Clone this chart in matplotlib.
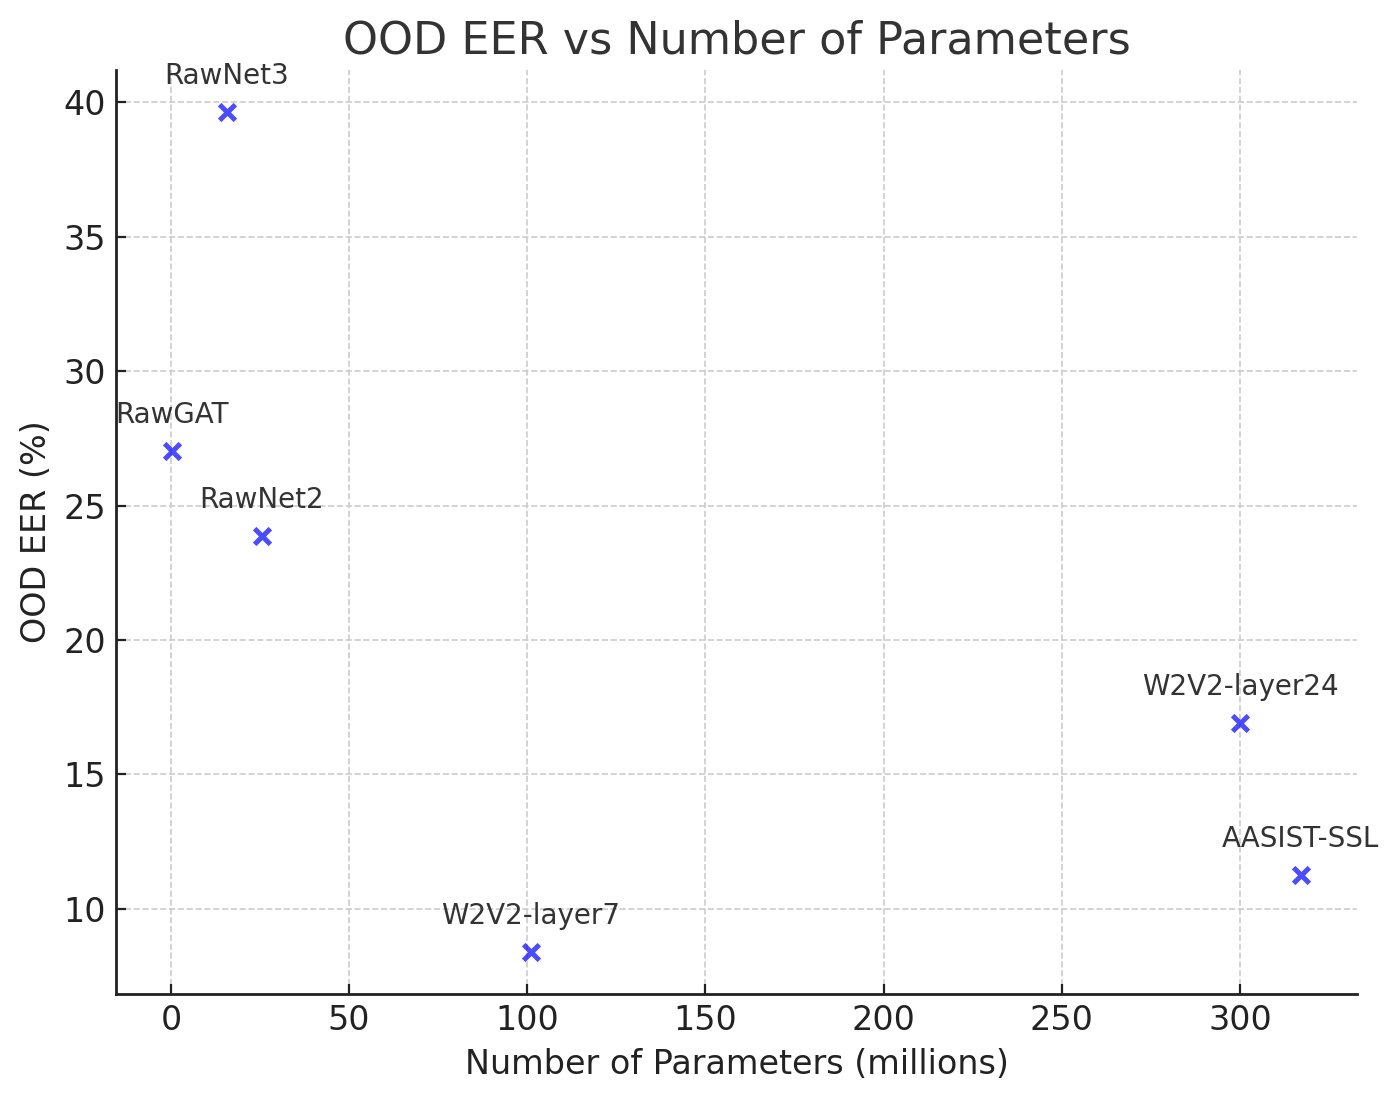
import matplotlib
matplotlib.use("Agg")
import matplotlib.pyplot as plt

models = ["RawNet3", "RawGAT", "RawNet2", "W2V2-layer7", "W2V2-layer24", "AASIST-SSL"]
params_m = [15.7, 0.44, 25.5, 101, 300, 317]
ood_eer = [39.63, 27.03, 23.87, 8.40, 16.92, 11.26]

fig = plt.figure(figsize=(6.99, 5.505), dpi=200)
ax = fig.add_axes([0.083, 0.0972, 0.8877, 0.8392])

ax.scatter(params_m, ood_eer, marker="x", color="blue", alpha=0.7, s=32, linewidths=1.8, zorder=3)
for name, x, y in zip(models, params_m, ood_eer):
    ax.annotate(name, (x, y), textcoords="offset points", xytext=(0, 10),
                ha="center", fontsize=10, color="#333333")

ax.set_title("OOD EER vs Number of Parameters", fontsize=16, color="#333333")
ax.set_xlabel("Number of Parameters (millions)", fontsize=12, color="#222222")
ax.set_ylabel("OOD EER (%)", fontsize=12, color="#222222")
ax.tick_params(labelsize=12, colors="#222222", direction="in")
ax.grid(True, linestyle="--", color="#cccccc", linewidth=0.6)
ax.set_axisbelow(True)
for s in ["top", "right"]:
    ax.spines[s].set_visible(False)
for s in ["left", "bottom"]:
    ax.spines[s].set_color("#222222")
    ax.spines[s].set_linewidth(1.0)

fig.savefig("out.png", dpi=200)
